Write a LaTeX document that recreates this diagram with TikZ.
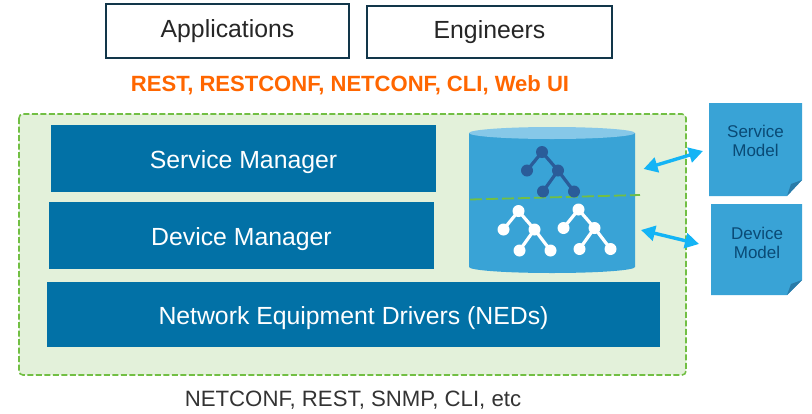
\documentclass[tikz,border=0pt]{standalone}
\usepackage{fontspec}
\setmainfont{Liberation Sans}
\usetikzlibrary{arrows.meta}
\definecolor{bluebar}{HTML}{0271A6}
\definecolor{cyl}{HTML}{39A3D6}
\definecolor{cyltop}{HTML}{86C8E8}
\definecolor{boxedge}{HTML}{12364A}
\definecolor{greenfill}{HTML}{E3F1DA}
\definecolor{greenline}{HTML}{72BF44}
\definecolor{orangetxt}{HTML}{FF6600}
\definecolor{arrowblue}{HTML}{14B4F5}
\definecolor{navy}{HTML}{2A5C99}
\definecolor{modeltxt}{HTML}{0A4A75}
\definecolor{folddark}{HTML}{2A7BA8}
\tikzset{
  topbox/.style={draw=boxedge,line width=1.8pt,fill=white,inner sep=0pt,font=\fontsize{24.8}{28}\selectfont,text=black!85},
  bar/.style={fill=bluebar,inner sep=0pt,text=white,font=\fontsize{24.8}{28}\selectfont},
  treeedge/.style={line width=3.2pt},
  dotn/.style={circle,inner sep=0pt,minimum size=12pt},
  biarrow/.style={draw=arrowblue,line width=3.4pt,{Triangle[length=14pt,width=15pt]}-{Triangle[length=14pt,width=15pt]}},
  modeltext/.style={text=modeltxt,align=center,font=\fontsize{17}{19}\selectfont,inner sep=0pt},
  plain/.style={inner sep=0pt}
}
\newcommand{\treeat}[3]{%
  \begin{scope}[shift={(#1)}]
    \node[dotn,fill=#2] (#3a) at (0,0) {};
    \node[dotn,fill=#2] (#3b) at (-15,18.5) {};
    \node[dotn,fill=#2] (#3c) at (16,18.5) {};
    \node[dotn,fill=#2] (#3d) at (1,39.5) {};
    \node[dotn,fill=#2] (#3e) at (32,39.5) {};
    \draw[treeedge,draw=#2] (#3b.center)--(#3a.center)--(#3c.center)--(#3d.center) (#3c.center)--(#3e.center);
  \end{scope}}
\newcommand{\lowertext}[1]{\raisebox{-4pt}[\height][\depth]{#1}}
\begin{document}
\begin{tikzpicture}[x=1pt,y=-1pt]
\useasboundingbox (0,0) rectangle (812,413);
% top boxes
\node[topbox,minimum width=243pt,minimum height=54pt] (apps) at (227.5,31) {Applications};
\node[topbox,minimum width=245pt,minimum height=52pt] (eng) at (489.5,32) {Engineers};
\node[plain,text=orangetxt,font=\bfseries\fontsize{22.05}{24}\selectfont] (north) at (350,85) {REST, RESTCONF, NETCONF, CLI, Web UI};
% green container
\draw[draw=greenline,fill=greenfill,line width=1.6pt,dash pattern=on 6pt off 2.5pt,rounded corners=4pt] (19,114) rectangle (686,375);
\node[bar,minimum width=385pt,minimum height=67pt] (svc) at (243.5,158.5) {\lowertext{Service Manager}};
\node[bar,minimum width=385pt,minimum height=67pt] (dev) at (241.5,235.5) {\lowertext{Device Manager}};
\node[bar,minimum width=613pt,minimum height=65pt] (ned) at (353.5,314.5) {\lowertext{Network Equipment Drivers (NEDs)}};
% cylinder
\fill[cyl] (469,133) -- (469,267) arc[start angle=180,end angle=0,x radius=83,y radius=6] -- (635,133) -- cycle;
\fill[cyltop] (552,133) ellipse[x radius=83,y radius=6];
\draw[draw=greenline,line width=1.8pt,dash pattern=on 12pt off 4pt] (470,199.5) -- (640,195);
\treeat{542,152}{navy}{s}
\treeat{518.5,211}{white}{p}
\treeat{578.5,209.5}{white}{q}
% models
\fill[cyl] (709,103) -- (802,103) -- (802,180) -- (787,196) -- (709,196) -- cycle;
\fill[folddark] (802,180) -- (787,196) -- (791,184) -- cycle;
\node[modeltext] (sm) at (755.5,141) {Service\\Model};
\fill[cyl] (711,204) -- (802,204) -- (802,280) -- (787,295) -- (711,295) -- cycle;
\fill[folddark] (802,280) -- (787,295) -- (791,284) -- cycle;
\node[modeltext] (dm) at (757,243) {Device\\Model};
% arrows
\coordinate (sa) at (643.5,169);
\coordinate (sb) at (703,151);
\coordinate (da) at (641,230);
\coordinate (db) at (699,244);
\draw[biarrow] (sa) -- (sb);
\draw[biarrow] (da) -- (db);
\node[plain,text=black!80,font=\fontsize{22.2}{24}\selectfont] (south) at (353,400) {NETCONF, REST, SNMP, CLI, etc};
\end{tikzpicture}
\end{document}
